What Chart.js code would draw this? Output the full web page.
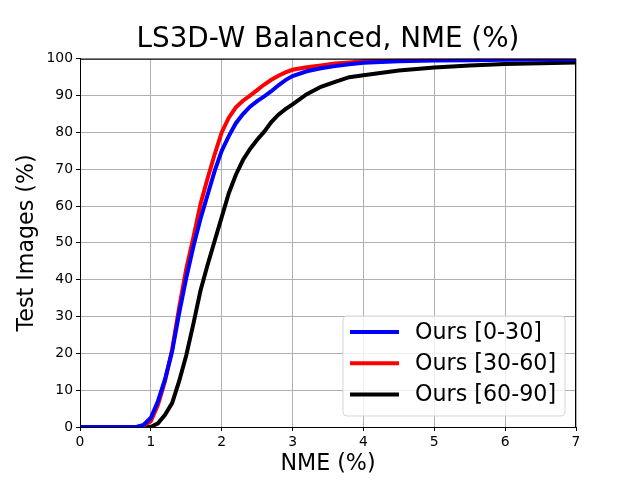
<!DOCTYPE html>
<html lang="en">
<head>
  <meta charset="UTF-8">
  <title>LS3D-W Balanced, NME (%)</title>
  <script src="https://cdn.jsdelivr.net/npm/chart.js"></script>
  <style>
    body { margin: 0; background: #fff; }
    #cedChart { display: block; }
  </style>
</head>
<body>
  <canvas id="cedChart" width="640" height="480"></canvas>

  <script>
    // NME thresholds (%) sampled along the x axis
    const nmeX = [0, 0.5, 0.8, 0.9, 1.0, 1.1, 1.2, 1.3, 1.4, 1.5, 1.6, 1.7, 1.8, 1.9,
                  2.0, 2.1, 2.2, 2.3, 2.4, 2.5, 2.6, 2.7, 2.8, 2.9, 3.0, 3.2, 3.4, 3.6,
                  3.8, 4.0, 4.5, 5.0, 5.5, 6.0, 6.5, 7.0];

    // fraction of test images (%) under each threshold
    const yaw0to30 = [0, 0, 0, 0.6, 2.5, 7, 13, 20.5, 31, 40.5, 49, 56.5, 63, 69.5,
                      75, 79, 82.5, 85, 87, 88.5, 89.8, 91.2, 92.8, 94.2, 95.3, 96.6, 97.4, 98,
                      98.5, 98.9, 99.3, 99.5, 99.6, 99.7, 99.8, 99.8];
    const yaw30to60 = [0, 0, 0, 0.4, 1.6, 6, 12.5, 21, 32.5, 43, 51.5, 60.5, 67.5, 74,
                       80, 84, 86.8, 88.6, 90, 91.5, 93, 94.3, 95.4, 96.3, 97, 97.7, 98.2, 98.7,
                       99, 99.3, 99.6, 99.8, 99.9, 100, 100, 100];
    const yaw60to90 = [0, 0, 0, 0, 0, 1, 3.3, 6.5, 12.5, 19.5, 28, 37, 44, 50.5,
                       57, 63.5, 68.5, 72.5, 75.5, 78, 80.2, 82.8, 84.8, 86.3, 87.6, 90.4, 92.4, 93.7,
                       95, 95.5, 96.8, 97.6, 98.2, 98.6, 98.8, 99];

    const seriesLabels = ['Ours [0-30]', 'Ours [30-60]', 'Ours [60-90]'];
    const seriesColors = ['#0000ff', '#ff0000', '#000000'];
    const xTicks = [0, 1, 2, 3, 4, 5, 6, 7];
    const yTicks = [0, 10, 20, 30, 40, 50, 60, 70, 80, 90, 100];

    const FONT = "'DejaVu Sans', sans-serif";

    function toPoints(ys) {
      return nmeX.map((x, i) => ({ x: x, y: ys[i] }));
    }

    // title centred over the axes, top/right spines, legend inside the axes
    const frameAndLegend = {
      id: 'frameAndLegend',
      afterLayout(chart) {
        const t = chart.titleBlock;
        if (t) {
          t.left = chart.chartArea.left;
          t.right = chart.chartArea.right;
          t.width = t.right - t.left;
        }
      },
      afterDatasetsDraw(chart) {
        const { ctx, chartArea: a } = chart;
        ctx.save();
        ctx.strokeStyle = '#000';
        ctx.lineWidth = 1;
        ctx.strokeRect(a.left + 0.5, a.top + 0.5, a.right - a.left - 1, a.bottom - a.top);

        const fs = 22.2;
        const boxW = 222, boxH = 100;
        const bx = a.right - 11 - boxW;
        const by = a.bottom - 11 - boxH;
        ctx.beginPath();
        ctx.roundRect(bx, by, boxW, boxH, 4);
        ctx.fillStyle = 'rgba(255,255,255,0.8)';
        ctx.fill();
        ctx.strokeStyle = 'rgba(204,204,204,0.8)';
        ctx.stroke();

        ctx.font = fs + 'px ' + FONT;
        ctx.textBaseline = 'middle';
        ctx.textAlign = 'left';
        chart.data.datasets.forEach((ds, i) => {
          const y = by + 16 + i * 31.3;
          ctx.beginPath();
          ctx.moveTo(bx + 7, y);
          ctx.lineTo(bx + 56, y);
          ctx.strokeStyle = ds.borderColor;
          ctx.lineWidth = 4;
          ctx.stroke();
          ctx.fillStyle = '#000';
          ctx.fillText(ds.label, bx + 72, y + 1);
        });
        ctx.restore();
      }
    };

    const ctx = document.getElementById('cedChart').getContext('2d');
    new Chart(ctx, {
      type: 'line',
      data: {
        datasets: [yaw0to30, yaw30to60, yaw60to90].map((ys, i) => ({
          label: seriesLabels[i],
          data: toPoints(ys),
          borderColor: seriesColors[i],
          backgroundColor: seriesColors[i],
          borderWidth: 4,
          pointRadius: 0,
          tension: 0,
          fill: false,
          clip: 0
        }))
      },
      options: {
        responsive: false,
        animation: false,
        layout: { padding: { top: 0, right: 64, bottom: 0, left: 0 } },
        plugins: {
          legend: { display: false },
          tooltip: { enabled: false },
          title: {
            display: true,
            text: 'LS3D-W Balanced, NME (%)',
            color: '#000',
            font: { family: FONT, size: 27.8, weight: 'normal' },
            padding: { top: 23, bottom: 2.4 }
          }
        },
        scales: {
          x: {
            type: 'linear',
            min: 0,
            max: 7,
            afterFit(scale) { scale.height = 53; },
            afterBuildTicks(scale) { scale.ticks = xTicks.map(v => ({ value: v })); },
            ticks: { color: '#000', font: { family: FONT, size: 13.9 }, padding: 3, maxRotation: 0 },
            grid: { color: '#b0b0b0', lineWidth: 1, tickColor: '#000', tickLength: 4 },
            border: { color: '#000', width: 1 },
            title: {
              display: true,
              text: 'NME (%)',
              color: '#000',
              font: { family: FONT, size: 22.2 },
              padding: { top: 0, bottom: 2 }
            }
          },
          y: {
            type: 'linear',
            min: 0,
            max: 100,
            afterFit(scale) { scale.width = 80; },
            afterBuildTicks(scale) { scale.ticks = yTicks.map(v => ({ value: v })); },
            ticks: { color: '#000', font: { family: FONT, size: 13.9 }, padding: 3 },
            grid: { color: '#b0b0b0', lineWidth: 1, tickColor: '#000', tickLength: 4 },
            border: { color: '#000', width: 1 },
            title: {
              display: true,
              text: 'Test Images (%)',
              color: '#000',
              font: { family: FONT, size: 22.2 },
              padding: { top: 14, bottom: 0 }
            }
          }
        }
      },
      plugins: [frameAndLegend]
    });
  </script>
</body>
</html>
